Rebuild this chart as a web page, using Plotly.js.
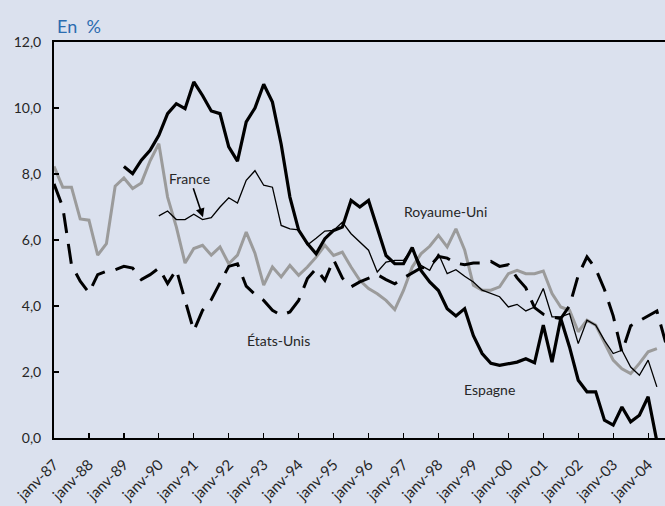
<!DOCTYPE html>
<html>
<head>
<meta charset="utf-8">
<script src="https://cdn.plot.ly/plotly-3.0.1.min.js"></script>
<style>
html,body{margin:0;padding:0;background:#dbe1ee;}
#chart{width:665px;height:506px;}
</style>
</head>
<body>
<div id="chart"></div>
<script>
// Quarter index: 0 = janv-87, 4 = janv-88, ...
const tickLabels = ["janv-87","janv-88","janv-89","janv-90","janv-91","janv-92","janv-93","janv-94","janv-95","janv-96","janv-97","janv-98","janv-99","janv-00","janv-01","janv-02","janv-03","janv-04"];

const ukStart = 0;
const royaumeUni = [8.23,7.6,7.6,6.64,6.6,5.54,5.89,7.63,7.88,7.56,7.73,8.4,8.92,7.3,6.4,5.3,5.74,5.84,5.54,5.79,5.28,5.54,6.24,5.6,4.63,5.18,4.88,5.23,4.93,5.18,5.48,5.84,5.53,5.63,5.18,4.78,4.53,4.37,4.17,3.89,4.47,5.18,5.58,5.81,6.14,5.79,6.34,5.7,4.63,4.48,4.48,4.58,4.98,5.08,4.98,4.98,5.06,4.38,3.97,3.87,3.22,3.57,3.42,2.91,2.36,2.1,1.95,2.26,2.61,2.71];

const frStart = 12;
const france = [6.73,6.88,6.62,6.62,6.78,6.62,6.68,7.0,7.28,7.12,7.81,8.1,7.66,7.6,6.44,6.34,6.31,5.85,6.05,6.27,6.29,6.54,6.19,5.94,5.69,5.03,5.33,5.38,5.38,5.74,5.23,5.08,5.58,4.98,5.1,4.9,4.73,4.48,4.38,4.28,3.97,4.05,3.85,3.97,4.53,3.67,3.67,3.77,2.86,3.57,3.42,2.96,2.56,2.66,2.15,1.9,2.36,1.55];

const esStart = 8;
const espagne = [8.23,8.01,8.42,8.72,9.17,9.83,10.13,9.98,10.79,10.38,9.91,9.83,8.82,8.39,9.58,10.0,10.72,10.18,8.9,7.3,6.3,5.89,5.58,6.04,6.29,6.39,7.2,7.0,7.2,6.39,5.53,5.28,5.28,5.77,5.08,4.73,4.47,3.92,3.7,3.92,3.1,2.56,2.26,2.2,2.26,2.3,2.4,2.28,3.42,2.3,3.62,2.76,1.75,1.4,1.4,0.54,0.39,0.94,0.49,0.69,1.25,-0.1];

const usStart = 0;
const etatsUnis = [7.7,7.0,5.25,4.75,4.4,4.95,5.05,5.1,5.2,5.15,4.8,4.95,5.15,4.68,5.1,4.2,3.25,3.87,4.19,4.7,5.2,5.28,4.6,4.35,4.17,3.87,3.72,3.82,4.17,4.83,5.13,4.78,5.4,4.85,4.58,4.73,4.85,4.95,4.8,4.67,4.85,5.0,5.15,5.2,5.5,5.45,5.3,5.25,5.3,5.3,5.35,5.2,5.25,4.85,4.55,3.95,3.75,3.67,3.62,4.0,4.93,5.49,5.13,4.5,3.7,2.6,3.4,3.55,3.7,3.85,2.9];

function xs(start, arr){ return arr.map((_, i) => start + i); }

const font = "Lato, 'Open Sans', sans-serif";
const txt = '#262626';

const traces = [
  {x: xs(ukStart, royaumeUni), y: royaumeUni, mode: 'lines', name: 'Royaume-Uni',
   line: {color: '#9b9b9b', width: 3}},
  {x: xs(usStart, etatsUnis), y: etatsUnis, mode: 'lines', name: 'États-Unis',
   line: {color: '#000000', width: 3, dash: '20px,11px'}},
  {x: xs(frStart, france), y: france, mode: 'lines', name: 'France',
   line: {color: '#000000', width: 1.3}},
  {x: xs(esStart, espagne), y: espagne, mode: 'lines', name: 'Espagne',
   line: {color: '#000000', width: 3.2}}
];

const layout = {
  width: 665, height: 506,
  paper_bgcolor: '#dbe1ee', plot_bgcolor: '#dbe1ee',
  margin: {l: 54, r: 0, t: 42, b: 68, pad: 0},
  showlegend: false,
  separators: ', ',
  font: {family: font, size: 14, color: txt},
  xaxis: {
    range: [0, 69.93], showgrid: false, zeroline: false,
    showline: true, linecolor: '#000', linewidth: 2, mirror: true,
    ticks: 'inside', ticklen: 5, tickcolor: '#000', tickwidth: 1.2,
    tickvals: tickLabels.map((_, i) => i * 4), ticktext: tickLabels,
    tickangle: -45, tickfont: {family: font, size: 15, color: txt},
    ticklabelstandoff: 10
  },
  yaxis: {
    range: [0, 12], showgrid: false, zeroline: false,
    showline: true, linecolor: '#000', linewidth: 2,
    ticks: 'inside', ticklen: 5, tickcolor: '#000', tickwidth: 1.2,
    tickvals: [0, 2, 4, 6, 8, 10, 12], tickformat: '.1f',
    tickfont: {family: font, size: 14, color: txt},
    ticklabelstandoff: 8
  },
  annotations: [
    {x: 17.05, y: 6.69, xref: 'x', yref: 'y', text: 'France', showarrow: true,
     ax: -13, ay: -39, arrowhead: 2, arrowsize: 1.1, arrowwidth: 1.6, arrowcolor: '#000',
     font: {family: font, size: 14, color: txt}},
    {x: 44.86, y: 6.86, xref: 'x', yref: 'y', text: 'Royaume-Uni', showarrow: false,
     xanchor: 'center', yanchor: 'middle', font: {family: font, size: 14, color: txt}},
    {x: 25.75, y: 2.95, xref: 'x', yref: 'y', text: 'États-Unis', showarrow: false,
     xanchor: 'center', yanchor: 'middle', font: {family: font, size: 14, color: txt}},
    {x: 49.79, y: 1.48, xref: 'x', yref: 'y', text: 'Espagne', showarrow: false,
     xanchor: 'center', yanchor: 'middle', font: {family: font, size: 14, color: txt}},
    {x: 0.002, y: 1.04, xref: 'paper', yref: 'paper', text: 'En\u00a0\u00a0%', showarrow: false,
     xanchor: 'left', yanchor: 'middle', font: {family: font, size: 18, color: '#2b6cb0'}}
  ]
};

Plotly.newPlot('chart', traces, layout, {displayModeBar: false, staticPlot: true});
</script>
</body>
</html>
